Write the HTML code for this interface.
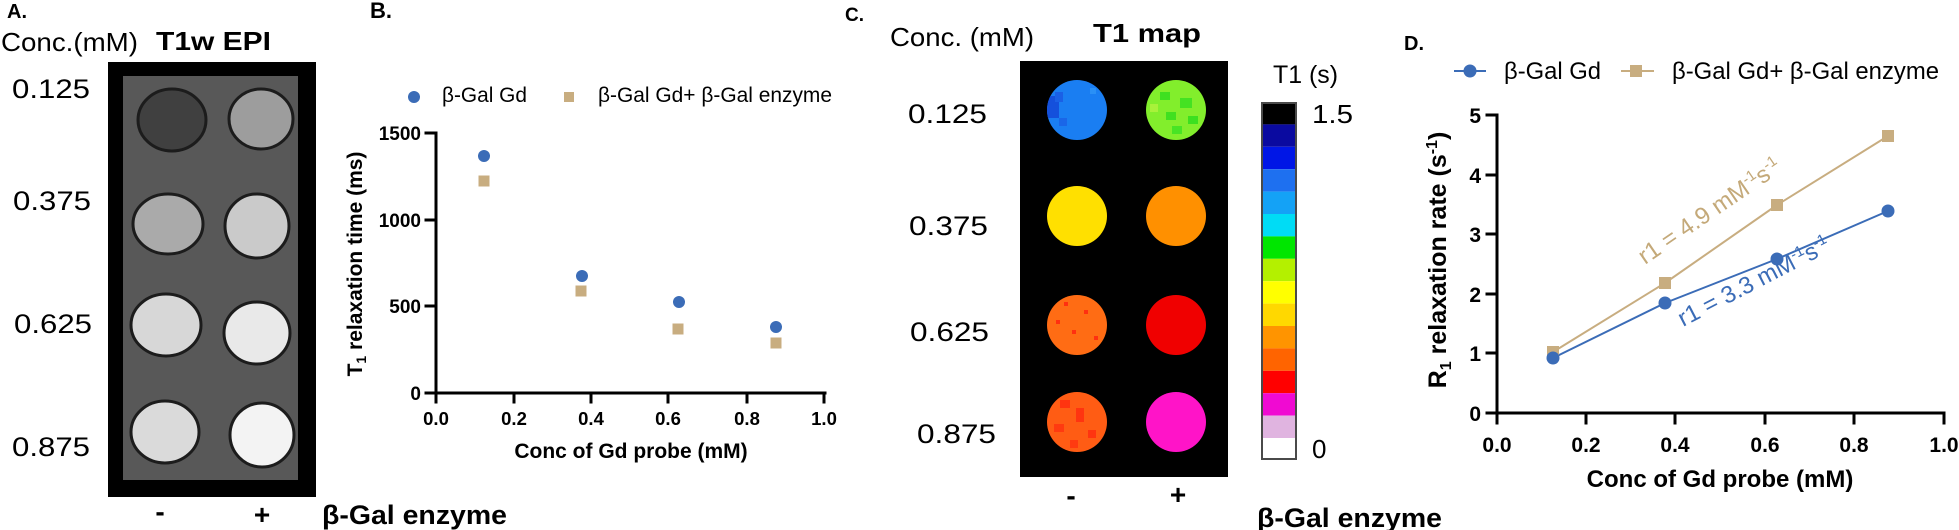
<!DOCTYPE html>
<html>
<head>
<meta charset="utf-8">
<style>
html,body{margin:0;padding:0;background:#fff;overflow:hidden;}
svg{display:block;}
text{font-family:"Liberation Sans",Arial,sans-serif;}
</style>
</head>
<body>
<svg width="1959" height="530" viewBox="0 0 1959 530" xmlns="http://www.w3.org/2000/svg">
<defs>
  <clipPath id="c1l"><circle cx="1077" cy="110" r="30"/></clipPath>
  <clipPath id="c1r"><circle cx="1176" cy="110" r="30"/></clipPath>
  <clipPath id="c3l"><circle cx="1077" cy="325" r="30"/></clipPath>
  <clipPath id="c4l"><circle cx="1077" cy="422" r="30"/></clipPath>
</defs>
<rect x="0" y="0" width="1959" height="530" fill="#fff"/>

<!-- ===== Panel A ===== -->
<text x="7" y="18" font-size="20" font-weight="bold">A.</text>
<text x="1" y="51" font-size="26" textLength="137" lengthAdjust="spacingAndGlyphs">Conc.(mM)</text>
<text x="156" y="50" font-size="26" font-weight="bold" textLength="115" lengthAdjust="spacingAndGlyphs">T1w EPI</text>

<rect x="108" y="62" width="208" height="435" fill="#000"/>
<rect x="123" y="76" width="175" height="404" fill="#585858"/>

<g stroke="#1c1c1c" stroke-width="3">
  <ellipse cx="172" cy="120" rx="34" ry="31" fill="#404040"/>
  <ellipse cx="261" cy="119" rx="32" ry="30" fill="#9d9d9d"/>
  <ellipse cx="168" cy="224" rx="35" ry="30" fill="#aaaaaa"/>
  <ellipse cx="257" cy="226" rx="32" ry="32" fill="#cacaca"/>
  <ellipse cx="166" cy="325" rx="35" ry="31" fill="#d7d7d7"/>
  <ellipse cx="257" cy="333" rx="33" ry="31" fill="#e9e9e9"/>
  <ellipse cx="165" cy="432" rx="34" ry="31" fill="#dadada"/>
  <ellipse cx="262" cy="435" rx="32" ry="32" fill="#f3f3f3"/>
</g>

<g font-size="27">
  <text x="12" y="98" textLength="78" lengthAdjust="spacingAndGlyphs">0.125</text>
  <text x="13" y="210" textLength="78" lengthAdjust="spacingAndGlyphs">0.375</text>
  <text x="14" y="333" textLength="78" lengthAdjust="spacingAndGlyphs">0.625</text>
  <text x="12" y="456" textLength="78" lengthAdjust="spacingAndGlyphs">0.875</text>
</g>
<g font-size="28" font-weight="bold" text-anchor="middle">
  <text x="160" y="521">-</text>
  <text x="262" y="524">+</text>
</g>
<text x="322" y="524" font-size="27" font-weight="bold" textLength="185" lengthAdjust="spacingAndGlyphs">β-Gal enzyme</text>

<!-- ===== Panel B ===== -->
<text x="370" y="18" font-size="22" font-weight="bold">B.</text>
<circle cx="414" cy="97" r="6" fill="#3b6cb7"/>
<text x="442" y="102" font-size="21" textLength="85" lengthAdjust="spacingAndGlyphs">β-Gal Gd</text>
<rect x="564" y="92" width="10" height="10" fill="#c8ad80"/>
<text x="598" y="102" font-size="21" textLength="234" lengthAdjust="spacingAndGlyphs">β-Gal Gd+ β-Gal enzyme</text>

<g stroke="#000" stroke-width="3" fill="none" stroke-linecap="square">
  <line x1="436" y1="133" x2="436" y2="393"/>
  <line x1="436" y1="393" x2="825" y2="393"/>
  <line x1="426" y1="133" x2="436" y2="133"/>
  <line x1="426" y1="220" x2="436" y2="220"/>
  <line x1="426" y1="306" x2="436" y2="306"/>
  <line x1="426" y1="393" x2="436" y2="393"/>
  <line x1="436" y1="393" x2="436" y2="402"/>
  <line x1="514" y1="393" x2="514" y2="402"/>
  <line x1="591" y1="393" x2="591" y2="402"/>
  <line x1="668" y1="393" x2="668" y2="402"/>
  <line x1="747" y1="393" x2="747" y2="402"/>
  <line x1="824" y1="393" x2="824" y2="402"/>
</g>
<g font-size="19" font-weight="bold" text-anchor="end">
  <text x="421" y="140">1500</text>
  <text x="421" y="227">1000</text>
  <text x="421" y="313">500</text>
  <text x="421" y="400">0</text>
</g>
<g font-size="18.5" font-weight="bold" text-anchor="middle">
  <text x="436" y="425">0.0</text>
  <text x="514" y="425">0.2</text>
  <text x="591" y="425">0.4</text>
  <text x="668" y="425">0.6</text>
  <text x="747" y="425">0.8</text>
  <text x="824" y="425">1.0</text>
</g>
<text x="631" y="458" font-size="21" font-weight="bold" text-anchor="middle">Conc of Gd probe (mM)</text>
<text transform="translate(362,264) rotate(-90)" font-size="21" font-weight="bold" text-anchor="middle">T<tspan font-size="14" dy="4">1</tspan><tspan dy="-4"> relaxation time (ms)</tspan></text>

<g fill="#3b6cb7">
  <circle cx="484" cy="156" r="6"/>
  <circle cx="582" cy="276" r="6"/>
  <circle cx="679" cy="302" r="6"/>
  <circle cx="776" cy="327" r="6"/>
</g>
<g fill="#c8ad80">
  <rect x="478.5" y="175.5" width="11" height="11"/>
  <rect x="575.5" y="285.5" width="11" height="11"/>
  <rect x="672.5" y="323.5" width="11" height="11"/>
  <rect x="770.5" y="337.5" width="11" height="11"/>
</g>

<!-- ===== Panel C ===== -->
<text x="845" y="21" font-size="19" font-weight="bold">C.</text>
<text x="890" y="46" font-size="26" textLength="144" lengthAdjust="spacingAndGlyphs">Conc. (mM)</text>
<text x="1093" y="42" font-size="26" font-weight="bold" textLength="108" lengthAdjust="spacingAndGlyphs">T1 map</text>

<rect x="1020" y="61" width="208" height="416" fill="#000"/>

<!-- row 1 -->
<g clip-path="url(#c1l)">
  <rect x="1045" y="78" width="64" height="64" fill="#1a7ef2"/>
  <rect x="1047" y="96" width="12" height="22" fill="#1450dc"/>
  <rect x="1055" y="92" width="8" height="10" fill="#1a60e6"/>
  <rect x="1059" y="118" width="8" height="8" fill="#1a66e8"/>
  <rect x="1090" y="88" width="6" height="6" fill="#2a90f6"/>
</g>
<g clip-path="url(#c1r)">
  <rect x="1144" y="78" width="64" height="64" fill="#82ee2c"/>
  <rect x="1160" y="92" width="10" height="8" fill="#3ee020"/>
  <rect x="1180" y="98" width="12" height="10" fill="#44e222"/>
  <rect x="1166" y="112" width="10" height="8" fill="#40e020"/>
  <rect x="1188" y="116" width="10" height="8" fill="#3ce020"/>
  <rect x="1172" y="126" width="10" height="8" fill="#48e424"/>
  <rect x="1150" y="104" width="8" height="8" fill="#a8f23a"/>
</g>
<!-- row 2 -->
<circle cx="1077" cy="216" r="30" fill="#ffe000"/>
<circle cx="1176" cy="216" r="30" fill="#ff9000"/>
<!-- row 3 -->
<g clip-path="url(#c3l)">
  <rect x="1045" y="293" width="64" height="64" fill="#ff6c14"/>
  <rect x="1064" y="302" width="4" height="4" fill="#ff3010"/>
  <rect x="1084" y="310" width="4" height="4" fill="#ff3010"/>
  <rect x="1072" y="330" width="4" height="4" fill="#ff3010"/>
  <rect x="1094" y="336" width="4" height="4" fill="#ff3010"/>
  <rect x="1056" y="320" width="4" height="4" fill="#ff3010"/>
</g>
<circle cx="1176" cy="325" r="30" fill="#f00000"/>
<!-- row 4 -->
<g clip-path="url(#c4l)">
  <rect x="1045" y="390" width="64" height="64" fill="#ff5c14"/>
  <rect x="1060" y="400" width="10" height="8" fill="#ff3410"/>
  <rect x="1076" y="408" width="8" height="14" fill="#ff3410"/>
  <rect x="1054" y="424" width="10" height="8" fill="#ff3a10"/>
  <rect x="1088" y="430" width="8" height="8" fill="#ff3410"/>
  <rect x="1070" y="440" width="8" height="8" fill="#ff3a10"/>
</g>
<circle cx="1176" cy="422" r="30" fill="#ff14c8"/>

<g font-size="27">
  <text x="908" y="123" textLength="79" lengthAdjust="spacingAndGlyphs">0.125</text>
  <text x="909" y="235" textLength="79" lengthAdjust="spacingAndGlyphs">0.375</text>
  <text x="910" y="341" textLength="79" lengthAdjust="spacingAndGlyphs">0.625</text>
  <text x="917" y="443" textLength="79" lengthAdjust="spacingAndGlyphs">0.875</text>
</g>
<g font-size="28" font-weight="bold" text-anchor="middle">
  <text x="1071" y="505">-</text>
  <text x="1178" y="504">+</text>
</g>

<!-- colorbar -->
<text x="1273" y="83" font-size="25" textLength="65" lengthAdjust="spacingAndGlyphs">T1 (s)</text>
<g>
  <rect x="1261" y="102" width="36" height="22.4" fill="#000000"/>
  <rect x="1261" y="124.4" width="36" height="22.4" fill="#0a0aa0"/>
  <rect x="1261" y="146.8" width="36" height="22.4" fill="#0016e6"/>
  <rect x="1261" y="169.2" width="36" height="22.4" fill="#1e70f0"/>
  <rect x="1261" y="191.6" width="36" height="22.4" fill="#14a2f6"/>
  <rect x="1261" y="214" width="36" height="22.4" fill="#00dcf5"/>
  <rect x="1261" y="236.4" width="36" height="22.4" fill="#00e600"/>
  <rect x="1261" y="258.8" width="36" height="22.4" fill="#b4f000"/>
  <rect x="1261" y="281.2" width="36" height="22.4" fill="#ffff00"/>
  <rect x="1261" y="303.6" width="36" height="22.4" fill="#ffd800"/>
  <rect x="1261" y="326" width="36" height="22.4" fill="#ff9400"/>
  <rect x="1261" y="348.4" width="36" height="22.4" fill="#ff6400"/>
  <rect x="1261" y="370.8" width="36" height="22.4" fill="#ff0000"/>
  <rect x="1261" y="393.2" width="36" height="22.4" fill="#f00ad2"/>
  <rect x="1261" y="415.6" width="36" height="22.4" fill="#e0b4e0"/>
  <rect x="1261" y="438" width="36" height="22" fill="#ffffff"/>
  <rect x="1262" y="103" width="34" height="356" fill="none" stroke="#4a4a4a" stroke-width="2"/>
</g>
<text x="1312" y="123" font-size="26" textLength="41" lengthAdjust="spacingAndGlyphs">1.5</text>
<text x="1312" y="458" font-size="26">0</text>
<text x="1257" y="527" font-size="27" font-weight="bold" textLength="185" lengthAdjust="spacingAndGlyphs">β-Gal enzyme</text>

<!-- ===== Panel D ===== -->
<text x="1404" y="50" font-size="20" font-weight="bold">D.</text>
<line x1="1454" y1="71" x2="1486" y2="71" stroke="#3b6cb7" stroke-width="2"/>
<circle cx="1470" cy="71" r="6.5" fill="#3b6cb7"/>
<text x="1504" y="79" font-size="24" textLength="97" lengthAdjust="spacingAndGlyphs">β-Gal Gd</text>
<line x1="1621" y1="71" x2="1654" y2="71" stroke="#c8ad80" stroke-width="2"/>
<rect x="1630" y="65" width="12" height="12" fill="#c8ad80"/>
<text x="1672" y="79" font-size="24" textLength="267" lengthAdjust="spacingAndGlyphs">β-Gal Gd+ β-Gal enzyme</text>

<g stroke="#000" stroke-width="3" fill="none" stroke-linecap="square">
  <line x1="1497" y1="115" x2="1497" y2="413"/>
  <line x1="1487" y1="413" x2="1944" y2="413"/>
  <line x1="1487" y1="115" x2="1497" y2="115"/>
  <line x1="1487" y1="175" x2="1497" y2="175"/>
  <line x1="1487" y1="234" x2="1497" y2="234"/>
  <line x1="1487" y1="294" x2="1497" y2="294"/>
  <line x1="1487" y1="353" x2="1497" y2="353"/>
  <line x1="1497" y1="413" x2="1497" y2="423"/>
  <line x1="1586" y1="413" x2="1586" y2="423"/>
  <line x1="1675" y1="413" x2="1675" y2="423"/>
  <line x1="1765" y1="413" x2="1765" y2="423"/>
  <line x1="1854" y1="413" x2="1854" y2="423"/>
  <line x1="1944" y1="413" x2="1944" y2="423"/>
</g>
<g font-size="21" font-weight="bold" text-anchor="end">
  <text x="1481" y="123">5</text>
  <text x="1481" y="183">4</text>
  <text x="1481" y="242">3</text>
  <text x="1481" y="302">2</text>
  <text x="1481" y="361">1</text>
  <text x="1481" y="421">0</text>
</g>
<g font-size="21" font-weight="bold" text-anchor="middle">
  <text x="1497" y="452">0.0</text>
  <text x="1586" y="452">0.2</text>
  <text x="1675" y="452">0.4</text>
  <text x="1765" y="452">0.6</text>
  <text x="1854" y="452">0.8</text>
  <text x="1944" y="452">1.0</text>
</g>
<text x="1720" y="487" font-size="24" font-weight="bold" text-anchor="middle">Conc of Gd probe (mM)</text>
<text transform="translate(1446,260) rotate(-90)" font-size="25" font-weight="bold" text-anchor="middle">R<tspan font-size="16" dy="5">1</tspan><tspan dy="-5"> relaxation rate (s</tspan><tspan font-size="16" dy="-9">-1</tspan><tspan dy="9">)</tspan></text>

<polyline points="1553,352 1665,283 1777,205 1888,136" fill="none" stroke="#c8ad80" stroke-width="2"/>
<polyline points="1553,358 1665,303 1777,259 1888,211" fill="none" stroke="#3b6cb7" stroke-width="2"/>
<g fill="#c8ad80">
  <rect x="1547" y="346" width="12" height="12"/>
  <rect x="1659" y="277" width="12" height="12"/>
  <rect x="1771" y="199" width="12" height="12"/>
  <rect x="1882" y="130" width="12" height="12"/>
</g>
<g fill="#3b6cb7">
  <circle cx="1553" cy="358" r="6.5"/>
  <circle cx="1665" cy="303" r="6.5"/>
  <circle cx="1777" cy="259" r="6.5"/>
  <circle cx="1888" cy="211" r="6.5"/>
</g>

<text transform="translate(1645,265) rotate(-34.4)" font-size="24" fill="#c4a979">r1 = 4.9 mM<tspan font-size="15" dy="-9">-1</tspan><tspan dy="9">s</tspan><tspan font-size="15" dy="-9">-1</tspan></text>
<text transform="translate(1683,327) rotate(-27.3)" font-size="24" fill="#3b6cb7">r1 = 3.3 mM<tspan font-size="15" dy="-9">-1</tspan><tspan dy="9">s</tspan><tspan font-size="15" dy="-9">-1</tspan></text>
</svg>
</body>
</html>
